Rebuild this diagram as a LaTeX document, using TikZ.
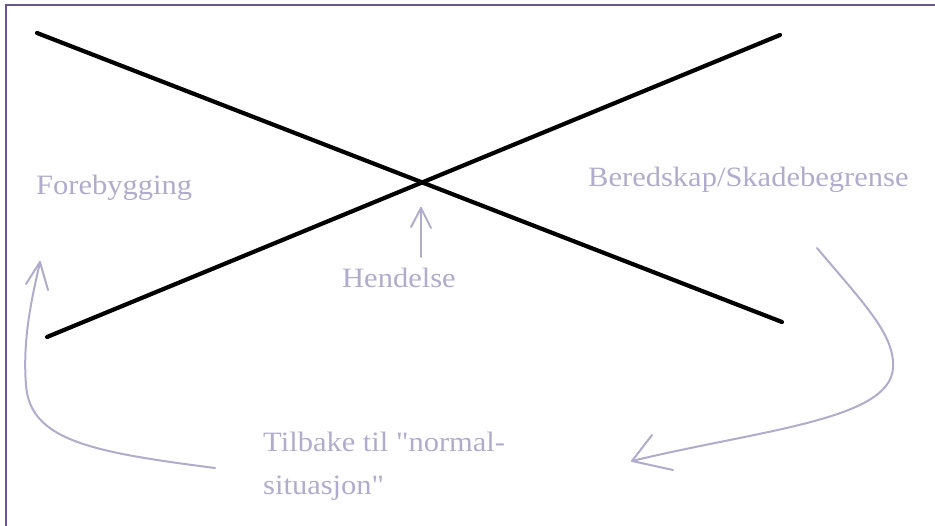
\documentclass[tikz,border=0pt]{standalone}
\usepackage{fontspec}
\setmainfont[FakeStretch=1.09, Ligatures=TeXOff]{Liberation Serif}
\definecolor{lav}{RGB}{178,172,204}
\definecolor{framec}{RGB}{105,85,145}
\tikzset{
  lbl/.style={anchor=base west, inner sep=0pt, text=lav, font=\fontsize{28}{28}\selectfont},
  xline/.style={line width=4.2pt, black, line cap=round},
  handarrow/.style={draw=lav, line width=2pt, line cap=round, line join=round}
}
\begin{document}
\begin{tikzpicture}[x=1pt,y=-1pt]
\useasboundingbox (0,0) rectangle (935,526);
\fill[white] (0,0) rectangle (935,526);
\draw[framec, line width=2.5pt] (6,526) -- (6,5) -- (935,5);
% cross
\coordinate (a1) at (37,33);
\coordinate (a2) at (782,322);
\coordinate (b1) at (47,337);
\coordinate (b2) at (780,35);
\draw[xline] (a1) -- (a2);
\draw[xline] (b1) -- (b2);
% labels
\node[lbl] (fore) at (36,195) {Forebygging};
\node[lbl] (bered) at (588,187) {Beredskap/Skadebegrense};
\node[lbl] (hend) at (342,288) {Hendelse};
\node[lbl] (tilb1) at (263,452) {Tilbake til "normal-};
\node[lbl] (tilb2) at (263,495) {situasjon"};
% Hendelse arrow
\coordinate (h0) at (421,257);
\coordinate (h1) at (421,208);
\draw[handarrow] (h0) -- (h1);
\draw[handarrow] (411,227) -- (h1) -- (431,228);
% left arrow
\coordinate (l0) at (215,468);
\coordinate (l1) at (40,262);
\draw[handarrow] (l0) .. controls (90,452) and (30,440) .. (26,385) .. controls (22,335) and (34,290) .. (l1);
\draw[handarrow] (26,284) -- (l1) -- (48,290);
% right arrow
\coordinate (r0) at (817,248);
\coordinate (r1) at (632,461);
\draw[handarrow] (r0) .. controls (865,305) and (895,335) .. (893,368) .. controls (890,420) and (760,430) .. (r1);
\draw[handarrow] (652,435) -- (r1) -- (673,470);
\end{tikzpicture}
\end{document}
